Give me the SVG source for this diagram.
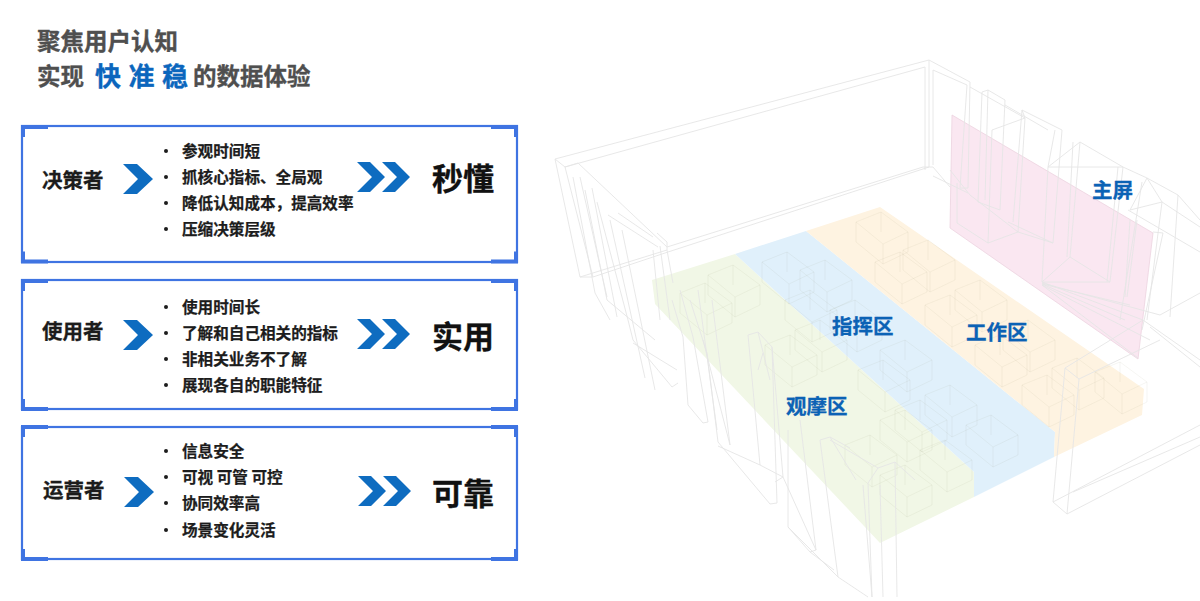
<svg xmlns="http://www.w3.org/2000/svg" width="1200" height="601" viewBox="0 0 1200 601">
<style>
text{font-family:"Noto Sans CJK SC","Liberation Sans",sans-serif;font-weight:700;stroke-linejoin:round}
.h{font-size:23.5px;fill:#4f4f4f;stroke:#4f4f4f;stroke-width:.35}
.k{font-size:26px;fill:#0b66bd;stroke:#0b66bd;stroke-width:.35}
.r{font-size:20.5px;fill:#1c1c1c;stroke:#1c1c1c;stroke-width:.3}
.l{font-size:15.6px;fill:#1c1c1c;stroke:#1c1c1c;stroke-width:.25}
.b{font-size:31px;fill:#111;stroke:#111;stroke-width:.3}
.z{font-size:20.5px;fill:#0b62b5;stroke:#0b62b5;stroke-width:.3}
.frame{fill:none;stroke:#3f74e2;stroke-width:2.2}
.cor{fill:#3f74e2}
.che{fill:#0e6cc0}
.w{fill:none;stroke:#e5e5e5;stroke-width:.9}
.c{fill:none;stroke:#6a6a40;stroke-opacity:.07;stroke-width:.9}
</style>
<defs>
<path id="desk" d="M0 0L25-10 52 10 27 22ZM0 0V20L27 42 52 30V10M27 22V42M25-10V10"/>
<path id="corners" d="M0 0H27V4H4V12H0ZM497 0H470V4H493V12H497Z"/>
<path id="chev" d="M0 0H14L30 15 14 30H0L15 15Z"/>
<path id="chev2" d="M0 0H13L28 15 13 30H0L15 15ZM25 0H38L53 15 38 30H25L40 15Z"/>
<circle id="dot" r="2" fill="#1c1c1c"/>
</defs>
<rect width="1200" height="601" fill="#fff"/>

<g id="title">
<text class="h" x="37" y="50">聚焦用户认知</text>
<text class="h" x="37" y="85">实现</text>
<text class="k" x="95" y="86" textLength="93">快 准 稳</text>
<text class="h" x="193" y="85">的数据体验</text>
</g>

<g id="card-decider">
<rect class="frame" x="22" y="126" width="495" height="136"/>
<use href="#corners" class="cor" x="21" y="125"/>
<use href="#corners" class="cor" transform="translate(21 263.500) scale(1 -1)"/>
<text class="r" x="42" y="188">决策者</text>
<use href="#chev" class="che" x="123" y="164"/>
<use href="#dot" x="166" y="151"/><use href="#dot" x="166" y="177"/><use href="#dot" x="166" y="203"/><use href="#dot" x="166" y="229"/>
<text class="l" x="182" y="157">参观时间短</text>
<text class="l" x="182" y="183">抓核心指标、全局观</text>
<text class="l" x="182" y="209">降低认知成本，提高效率</text>
<text class="l" x="182" y="235">压缩决策层级</text>
<use href="#chev2" class="che" x="357" y="162"/>
<text class="b" x="432" y="190">秒懂</text>
</g>

<g id="card-user">
<rect class="frame" x="22" y="280" width="495" height="129"/>
<use href="#corners" class="cor" x="21" y="279"/>
<use href="#corners" class="cor" transform="translate(21 411) scale(1 -1)"/>
<text class="r" x="42" y="339">使用者</text>
<use href="#chev" class="che" x="123" y="320"/>
<use href="#dot" x="166" y="307"/><use href="#dot" x="166" y="333"/><use href="#dot" x="166" y="359"/><use href="#dot" x="166" y="385"/>
<text class="l" x="182" y="313">使用时间长</text>
<text class="l" x="182" y="339">了解和自己相关的指标</text>
<text class="l" x="182" y="365">非相关业务不了解</text>
<text class="l" x="182" y="391">展现各自的职能特征</text>
<use href="#chev2" class="che" x="357" y="319"/>
<text class="b" x="432" y="348">实用</text>
</g>

<g id="card-operator">
<rect class="frame" x="22" y="427" width="495" height="132"/>
<use href="#corners" class="cor" x="21" y="425"/>
<use href="#corners" class="cor" transform="translate(21 561) scale(1 -1)"/>
<text class="r" x="43" y="498">运营者</text>
<use href="#chev" class="che" x="124" y="477"/>
<use href="#dot" x="166" y="451"/><use href="#dot" x="166" y="477"/><use href="#dot" x="166" y="503"/><use href="#dot" x="166" y="530"/>
<text class="l" x="182" y="457">信息安全</text>
<text class="l" x="182" y="483">可视 可管 可控</text>
<text class="l" x="182" y="509">协同效率高</text>
<text class="l" x="182" y="536">场景变化灵活</text>
<use href="#chev2" class="che" x="358" y="476"/>
<text class="b" x="432" y="505">可靠</text>
</g>

<g id="room-zones">
<polygon id="zone-green" points="652,280 735,254 974,472 974,497 880,543 655,304" fill="#f1f7e6"/>
<polygon id="zone-blue" points="735,254 806,231 1055,432 1054,457 974,497 974,472" fill="#e0f0fb"/>
<polygon id="zone-orange" points="806,231 880,207 1144,389 1142,415 1054,457 1055,432" fill="#fef3e1"/>
<polygon id="zone-pink" points="952,115 1153,233 1138,359 950,228" fill="#fae7f1" stroke="#ecd3df" stroke-width=".8"/>
</g>

<g id="desks" class="c">
<use href="#desk" x="856" y="222"/><use href="#desk" x="903" y="250"/><use href="#desk" x="875" y="262"/><use href="#desk" x="955" y="290"/><use href="#desk" x="925" y="305"/><use href="#desk" x="1003" y="330"/><use href="#desk" x="975" y="345"/><use href="#desk" x="1052" y="368"/><use href="#desk" x="1095" y="372"/><use href="#desk" x="1022" y="385"/>
<use href="#desk" x="762" y="262"/><use href="#desk" x="800" y="270"/><use href="#desk" x="785" y="300"/><use href="#desk" x="830" y="310"/><use href="#desk" x="880" y="350"/><use href="#desk" x="858" y="370"/><use href="#desk" x="925" y="395"/><use href="#desk" x="895" y="410"/><use href="#desk" x="966" y="425"/>
<use href="#desk" x="708" y="275"/><use href="#desk" x="680" y="293"/><use href="#desk" x="765" y="345"/><use href="#desk" x="795" y="330"/><use href="#desk" x="880" y="420"/><use href="#desk" x="845" y="445"/><use href="#desk" x="920" y="450"/><use href="#desk" x="880" y="475"/>
</g>

<g id="wireframe" class="w">
<path d="M555 159L929 60M565 167L925 67M555 159L565 167L578 163L667 247M667 247L923 167M668 252L929 167M580 277L667 250M593 277L668 252"/>
<path d="M555 159L580 277L593 277L565 167M573 177L595 293M580 177L607 297M585 190L607 300M592 188L617 317M597 202L628 320M628 320L633 340L672 387L678 383M633 343L677 370M610 220L645 378M622 230L655 390"/>
<path d="M608 215L658 247M618 213L653 237M657 233L667 242V250M653 250L660 320M660 246L670 320M667 250L673 283M595 293L610 320M607 300L655 340M672 300L683 337M680 290L693 337M690 300L707 353M698 290L717 430M712 300L730 445"/>
<path d="M929 60L970 82L968 188L960 188M925 67V170M929 60V167M933 70V165M923 167L933 167L950 187M933 70L967 85L960 188M970 87L1025 118M933 176L968 193"/>
<path d="M982 92L988 90L1005 100L1000 210L978 202L982 92M988 90L985 200M992 130L1025 118L1022 110L1062 130L1053 243L1018 232L1025 118M1022 110L1013 222M992 130L988 243L1018 232M1005 105L1048 130"/>
<path d="M1055 130L1048 167L1042 282L1070 257L1080 142L1123 167L1110 282L1070 257M1048 167L1080 142M1048 167H1123M1118 167L1107 282M1073 142L1067 257M1042 282L1110 282"/>
<path d="M1123 167L1147 178L1178 195L1170 317M1147 178L1130 210M1147 178L1162 202M1130 210L1162 202L1147 320M1142 182L1120 320M1162 202L1200 227M1178 195L1200 220M1137 220L1127 297M1130 220L1125 297M1153 232L1163 233L1142 330M1128 210L1200 252"/>
<path d="M957 183V223L988 243M950 170L970 195L1018 232M1042 282L1143 320M1042 285L1150 340M1042 285L1138 358M1042 284L1125 320M1042 283L1160 315M1042 284L1130 305M1160 315L1200 293M1150 327L1200 367M1143 320L1200 360M1008 222L1053 243"/>
<path d="M1065 368L1053 502L1067 514L1079 379L1065 368M1065 368L1143 320M1079 379L1160 340M1053 502L1200 425M1067 514L1200 445M1073 492L1200 437"/>
<path d="M683 337L688 405L703 423L708 422L693 337M707 353L718 442L770 504L777 503L772 347L758 332L748 335L760 465M718 446L760 465M703 340L730 445M758 332L770 380M763 353L758 370M760 465L783 477L775 482M783 477L816 550L810 552L788 527L788 430M800 420L816 550M772 347L783 477"/>
<path d="M820 440L838 577L868 597M820 440L830 437L850 448M830 437L856 480M830 440L878 468L868 483L872 597M863 485L872 597M880 485L883 597M895 462L897 597M878 468L895 462L915 480M834 570L810 552M788 527L838 577"/>
</g>

<g id="zone-labels">
<text class="z" x="1092" y="198">主屏</text>
<text class="z" x="832" y="334">指挥区</text>
<text class="z" x="966" y="340">工作区</text>
<text class="z" x="786" y="414">观摩区</text>
</g>
</svg>
